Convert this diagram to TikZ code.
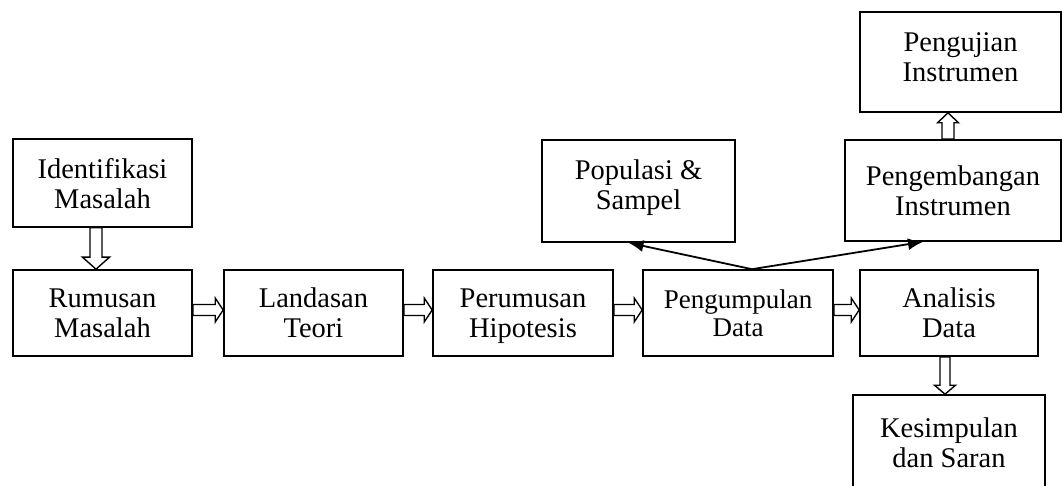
\documentclass[tikz,border=0pt]{standalone}
\usepackage{fontspec}
\setmainfont{Liberation Serif}
\usetikzlibrary{calc,arrows.meta}
\tikzset{
  box/.style={draw, line width=1.6pt, align=center, inner sep=0pt, text depth=0pt,
    font=\fontsize{28.5}{30}\selectfont},
  smallbox/.style={box, font=\fontsize{27}{28}\selectfont},
  blockarrow/.style={draw, fill=white, line width=1.4pt, line join=miter},
  link/.style={line width=1.8pt, -{Latex[length=15pt,width=12pt]}}
}
\newcommand{\blkarrow}[5]{%
  \coordinate (bas) at (#1);
  \coordinate (bat) at (#2);
  \coordinate (bah) at ($(bat)!#5!(bas)$);
  \draw[blockarrow] ($(bas)!#3!90:(bat)$) -- ($(bah)!#3!-90:(bas)$) -- ($(bah)!#4!-90:(bas)$)
    -- (bat) -- ($(bah)!#4!90:(bas)$) -- ($(bah)!#3!90:(bas)$) -- ($(bas)!#3!-90:(bat)$) -- cycle;
}
\begin{document}
\begin{tikzpicture}[x=1pt,y=-1pt]
\useasboundingbox (0,0) rectangle (1062,486);
\node[box, minimum width=179pt, minimum height=88pt] (iden) at (102.5,183) {Identifikasi\\Masalah};
\node[box, minimum width=179pt, minimum height=86pt] (rum) at (102.5,313) {Rumusan\\Masalah};
\node[box, minimum width=179pt, minimum height=86pt] (lan) at (313.5,313) {Landasan\\Teori};
\node[box, minimum width=180pt, minimum height=86pt] (per) at (523,313) {Perumusan\\Hipotesis};
\node[smallbox, minimum width=190pt, minimum height=86pt] (pen) at (738,313) {Pengumpulan\\Data};
\node[box, minimum width=178pt, minimum height=86pt] (ana) at (949,313) {Analisis\\Data};
\node[box, minimum width=192pt, minimum height=95pt] (kes) at (949,442.5) {Kesimpulan\\dan Saran};
\node[box, text depth=12pt, minimum width=193pt, minimum height=102pt] (pop) at (638.5,191) {Populasi \&\\Sampel};
\node[box, minimum width=216pt, minimum height=101pt] (peng) at (953,190.5) {Pengembangan\\Instrumen};
\node[box, text depth=9pt, minimum width=201pt, minimum height=100pt] (uji) at (960.5,62) {Pengujian\\Instrumen};

\blkarrow{[xshift=-6.5pt]iden.south}{[xshift=-6.5pt]rum.north}{6pt}{13.5pt}{12pt}
\blkarrow{[yshift=3pt]rum.east}{[yshift=3pt]lan.west}{5.5pt}{12pt}{8pt}
\blkarrow{[yshift=3pt]lan.east}{[yshift=3pt]per.west}{5.5pt}{12pt}{8pt}
\blkarrow{[yshift=3pt]per.east}{[yshift=3pt]pen.west}{5.5pt}{12pt}{8pt}
\blkarrow{[yshift=3pt]pen.east}{[yshift=3pt]ana.west}{5.5pt}{12pt}{8pt}
\coordinate (upfoot) at ([xshift=-5pt]peng.north);
\blkarrow{upfoot}{upfoot |- uji.south}{6pt}{10.5pt}{10pt}
\blkarrow{[xshift=-4pt]ana.south}{[xshift=-4pt]kes.north}{5pt}{10.5pt}{9pt}

\coordinate (apex) at ([xshift=14pt]pen.north);
\draw[link] (apex) -- ([xshift=-10pt]pop.south);
\draw[link] (apex) -- ([xshift=-30pt]peng.south);
\end{tikzpicture}
\end{document}
